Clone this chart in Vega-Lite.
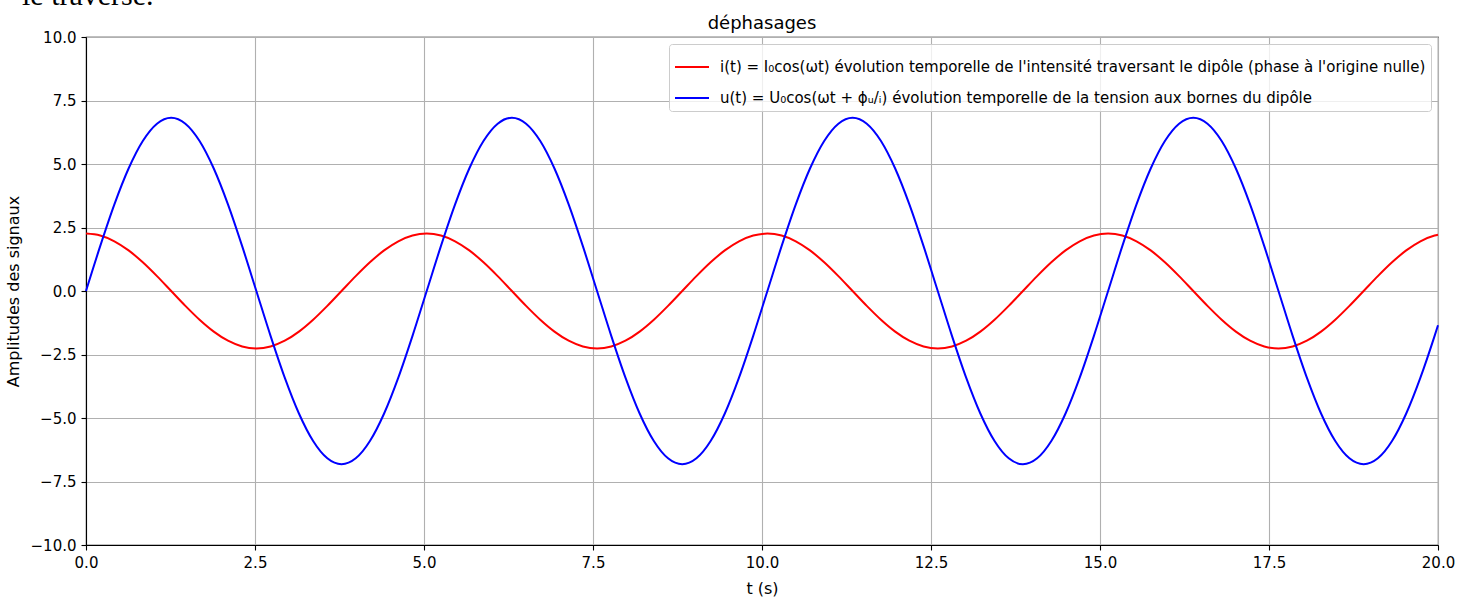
{
  "$schema": "https://vega.github.io/schema/vega-lite/v6.json",
  "autosize": {"type": "none"},
  "width": 1352,
  "height": 508,
  "padding": {"left": 86, "top": 37, "right": 34, "bottom": 52},
  "background": "white",
  "title": {"text": "déphasages", "fontSize": 18, "fontWeight": "normal", "font": "DejaVu Sans", "color": "black", "anchor": "middle", "frame": "group", "baseline": "alphabetic", "offset": -66},
  "config": {
    "font": "DejaVu Sans",
    "view": {"stroke": "black", "strokeWidth": 1.1},
    "axis": {
      "labelFontSize": 15, "labelColor": "black", "labelFont": "DejaVu Sans", "labelFlush": false,
      "tickColor": "black", "tickSize": 5, "tickWidth": 1.1, "labelPadding": 5,
      "domainColor": "black", "domainWidth": 1.1,
      "gridColor": "#b0b0b0", "gridWidth": 1.1,
      "titleFontSize": 16, "titleFontWeight": "normal", "titleColor": "black", "titleFont": "DejaVu Sans"
    },
    "legend": {"labelLimit": 0}
  },
  "layer": [
    {
      "data": {"values": [
        {"t":0,"i":2.26,"u":0},{"t":0.21,"i":2.183,"u":1.765},{"t":0.42,"i":1.957,"u":3.41},{"t":0.63,"i":1.598,"u":4.822},{"t":0.84,"i":1.13,"u":5.906},{"t":1.05,"i":0.585,"u":6.588},
        {"t":1.26,"i":0,"u":6.82},{"t":1.47,"i":-0.585,"u":6.588},{"t":1.68,"i":-1.13,"u":5.906},{"t":1.89,"i":-1.598,"u":4.822},{"t":2.1,"i":-1.957,"u":3.41},{"t":2.31,"i":-2.183,"u":1.765},
        {"t":2.52,"i":-2.26,"u":0},{"t":2.73,"i":-2.183,"u":-1.765},{"t":2.94,"i":-1.957,"u":-3.41},{"t":3.15,"i":-1.598,"u":-4.822},{"t":3.36,"i":-1.13,"u":-5.906},{"t":3.57,"i":-0.585,"u":-6.588},
        {"t":3.78,"i":0,"u":-6.82},{"t":3.99,"i":0.585,"u":-6.588},{"t":4.2,"i":1.13,"u":-5.906},{"t":4.41,"i":1.598,"u":-4.822},{"t":4.62,"i":1.957,"u":-3.41},{"t":4.83,"i":2.183,"u":-1.765},
        {"t":5.04,"i":2.26,"u":0},{"t":5.25,"i":2.183,"u":1.765},{"t":5.46,"i":1.957,"u":3.41},{"t":5.67,"i":1.598,"u":4.822},{"t":5.88,"i":1.13,"u":5.906},{"t":6.09,"i":0.585,"u":6.588},
        {"t":6.3,"i":0,"u":6.82},{"t":6.51,"i":-0.585,"u":6.588},{"t":6.72,"i":-1.13,"u":5.906},{"t":6.93,"i":-1.598,"u":4.822},{"t":7.14,"i":-1.957,"u":3.41},{"t":7.35,"i":-2.183,"u":1.765},
        {"t":7.56,"i":-2.26,"u":0},{"t":7.77,"i":-2.183,"u":-1.765},{"t":7.98,"i":-1.957,"u":-3.41},{"t":8.19,"i":-1.598,"u":-4.822},{"t":8.4,"i":-1.13,"u":-5.906},{"t":8.61,"i":-0.585,"u":-6.588},
        {"t":8.82,"i":0,"u":-6.82},{"t":9.03,"i":0.585,"u":-6.588},{"t":9.24,"i":1.13,"u":-5.906},{"t":9.45,"i":1.598,"u":-4.822},{"t":9.66,"i":1.957,"u":-3.41},{"t":9.87,"i":2.183,"u":-1.765},
        {"t":10.08,"i":2.26,"u":0},{"t":10.29,"i":2.183,"u":1.765},{"t":10.5,"i":1.957,"u":3.41},{"t":10.71,"i":1.598,"u":4.822},{"t":10.92,"i":1.13,"u":5.906},{"t":11.13,"i":0.585,"u":6.588},
        {"t":11.34,"i":0,"u":6.82},{"t":11.55,"i":-0.585,"u":6.588},{"t":11.76,"i":-1.13,"u":5.906},{"t":11.97,"i":-1.598,"u":4.822},{"t":12.18,"i":-1.957,"u":3.41},{"t":12.39,"i":-2.183,"u":1.765},
        {"t":12.6,"i":-2.26,"u":0},{"t":12.81,"i":-2.183,"u":-1.765},{"t":13.02,"i":-1.957,"u":-3.41},{"t":13.23,"i":-1.598,"u":-4.822},{"t":13.44,"i":-1.13,"u":-5.906},{"t":13.65,"i":-0.585,"u":-6.588},
        {"t":13.86,"i":0,"u":-6.82},{"t":14.07,"i":0.585,"u":-6.588},{"t":14.28,"i":1.13,"u":-5.906},{"t":14.49,"i":1.598,"u":-4.822},{"t":14.7,"i":1.957,"u":-3.41},{"t":14.91,"i":2.183,"u":-1.765},
        {"t":15.12,"i":2.26,"u":0},{"t":15.33,"i":2.183,"u":1.765},{"t":15.54,"i":1.957,"u":3.41},{"t":15.75,"i":1.598,"u":4.822},{"t":15.96,"i":1.13,"u":5.906},{"t":16.17,"i":0.585,"u":6.588},
        {"t":16.38,"i":0,"u":6.82},{"t":16.59,"i":-0.585,"u":6.588},{"t":16.8,"i":-1.13,"u":5.906},{"t":17.01,"i":-1.598,"u":4.822},{"t":17.22,"i":-1.957,"u":3.41},{"t":17.43,"i":-2.183,"u":1.765},
        {"t":17.64,"i":-2.26,"u":0},{"t":17.85,"i":-2.183,"u":-1.765},{"t":18.06,"i":-1.957,"u":-3.41},{"t":18.27,"i":-1.598,"u":-4.822},{"t":18.48,"i":-1.13,"u":-5.906},{"t":18.69,"i":-0.585,"u":-6.588},
        {"t":18.9,"i":0,"u":-6.82},{"t":19.11,"i":0.585,"u":-6.588},{"t":19.32,"i":1.13,"u":-5.906},{"t":19.53,"i":1.598,"u":-4.822},{"t":19.74,"i":1.957,"u":-3.41},{"t":19.95,"i":2.183,"u":-1.765},
        {"t":20,"i":2.215,"u":-1.351}
      ]},
      "transform": [{"fold": ["i", "u"], "as": ["serie", "valeur"]}],
      "mark": {"type": "line", "strokeWidth": 2, "interpolate": "monotone"},
      "encoding": {
        "x": {"field": "t", "type": "quantitative", "scale": {"domain": [0, 20], "nice": false},
              "axis": {"values": [0, 2.5, 5, 7.5, 10, 12.5, 15, 17.5, 20], "format": ".1f", "title": "t (s)", "titlePadding": 10}},
        "y": {"field": "valeur", "type": "quantitative", "scale": {"domain": [-10, 10], "nice": false, "zero": false},
              "axis": {"values": [-10, -7.5, -5, -2.5, 0, 2.5, 5, 7.5, 10], "format": ".1f", "title": "Amplitudes des signaux", "titlePadding": 9}},
        "color": {"field": "serie", "type": "nominal",
                  "scale": {"domain": ["i", "u"], "range": ["#ff0000", "#0000ff"]},
                  "legend": {"title": null, "orient": "top-right", "offset": 7, "padding": 5, "rowPadding": 5,
                             "symbolType": "stroke", "symbolSize": 1156, "symbolStrokeWidth": 2, "labelOffset": 10,
                             "labelFontSize": 15, "labelColor": "black", "labelFont": "DejaVu Sans",
                             "fillColor": "rgba(255,255,255,0.8)", "strokeColor": "#cccccc", "cornerRadius": 3,
                             "labelExpr": "datum.value == 'i' ? \"i(t) = I₀cos(ωt) évolution temporelle de l'intensité traversant le dipôle (phase à l'origine nulle)\" : \"u(t) = U₀cos(ωt + ϕᵤ/ᵢ) évolution temporelle de la tension aux bornes du dipôle\""}}
      }
    },
    {
      "data": {"values": [{"note": "le traverse."}]},
      "mark": {"type": "text", "font": "Liberation Serif", "fontSize": 30, "align": "left", "baseline": "alphabetic", "color": "black"},
      "encoding": {
        "x": {"datum": -0.947, "type": "quantitative"},
        "y": {"datum": 11.25, "type": "quantitative"},
        "text": {"field": "note"}
      }
    }
  ]
}
